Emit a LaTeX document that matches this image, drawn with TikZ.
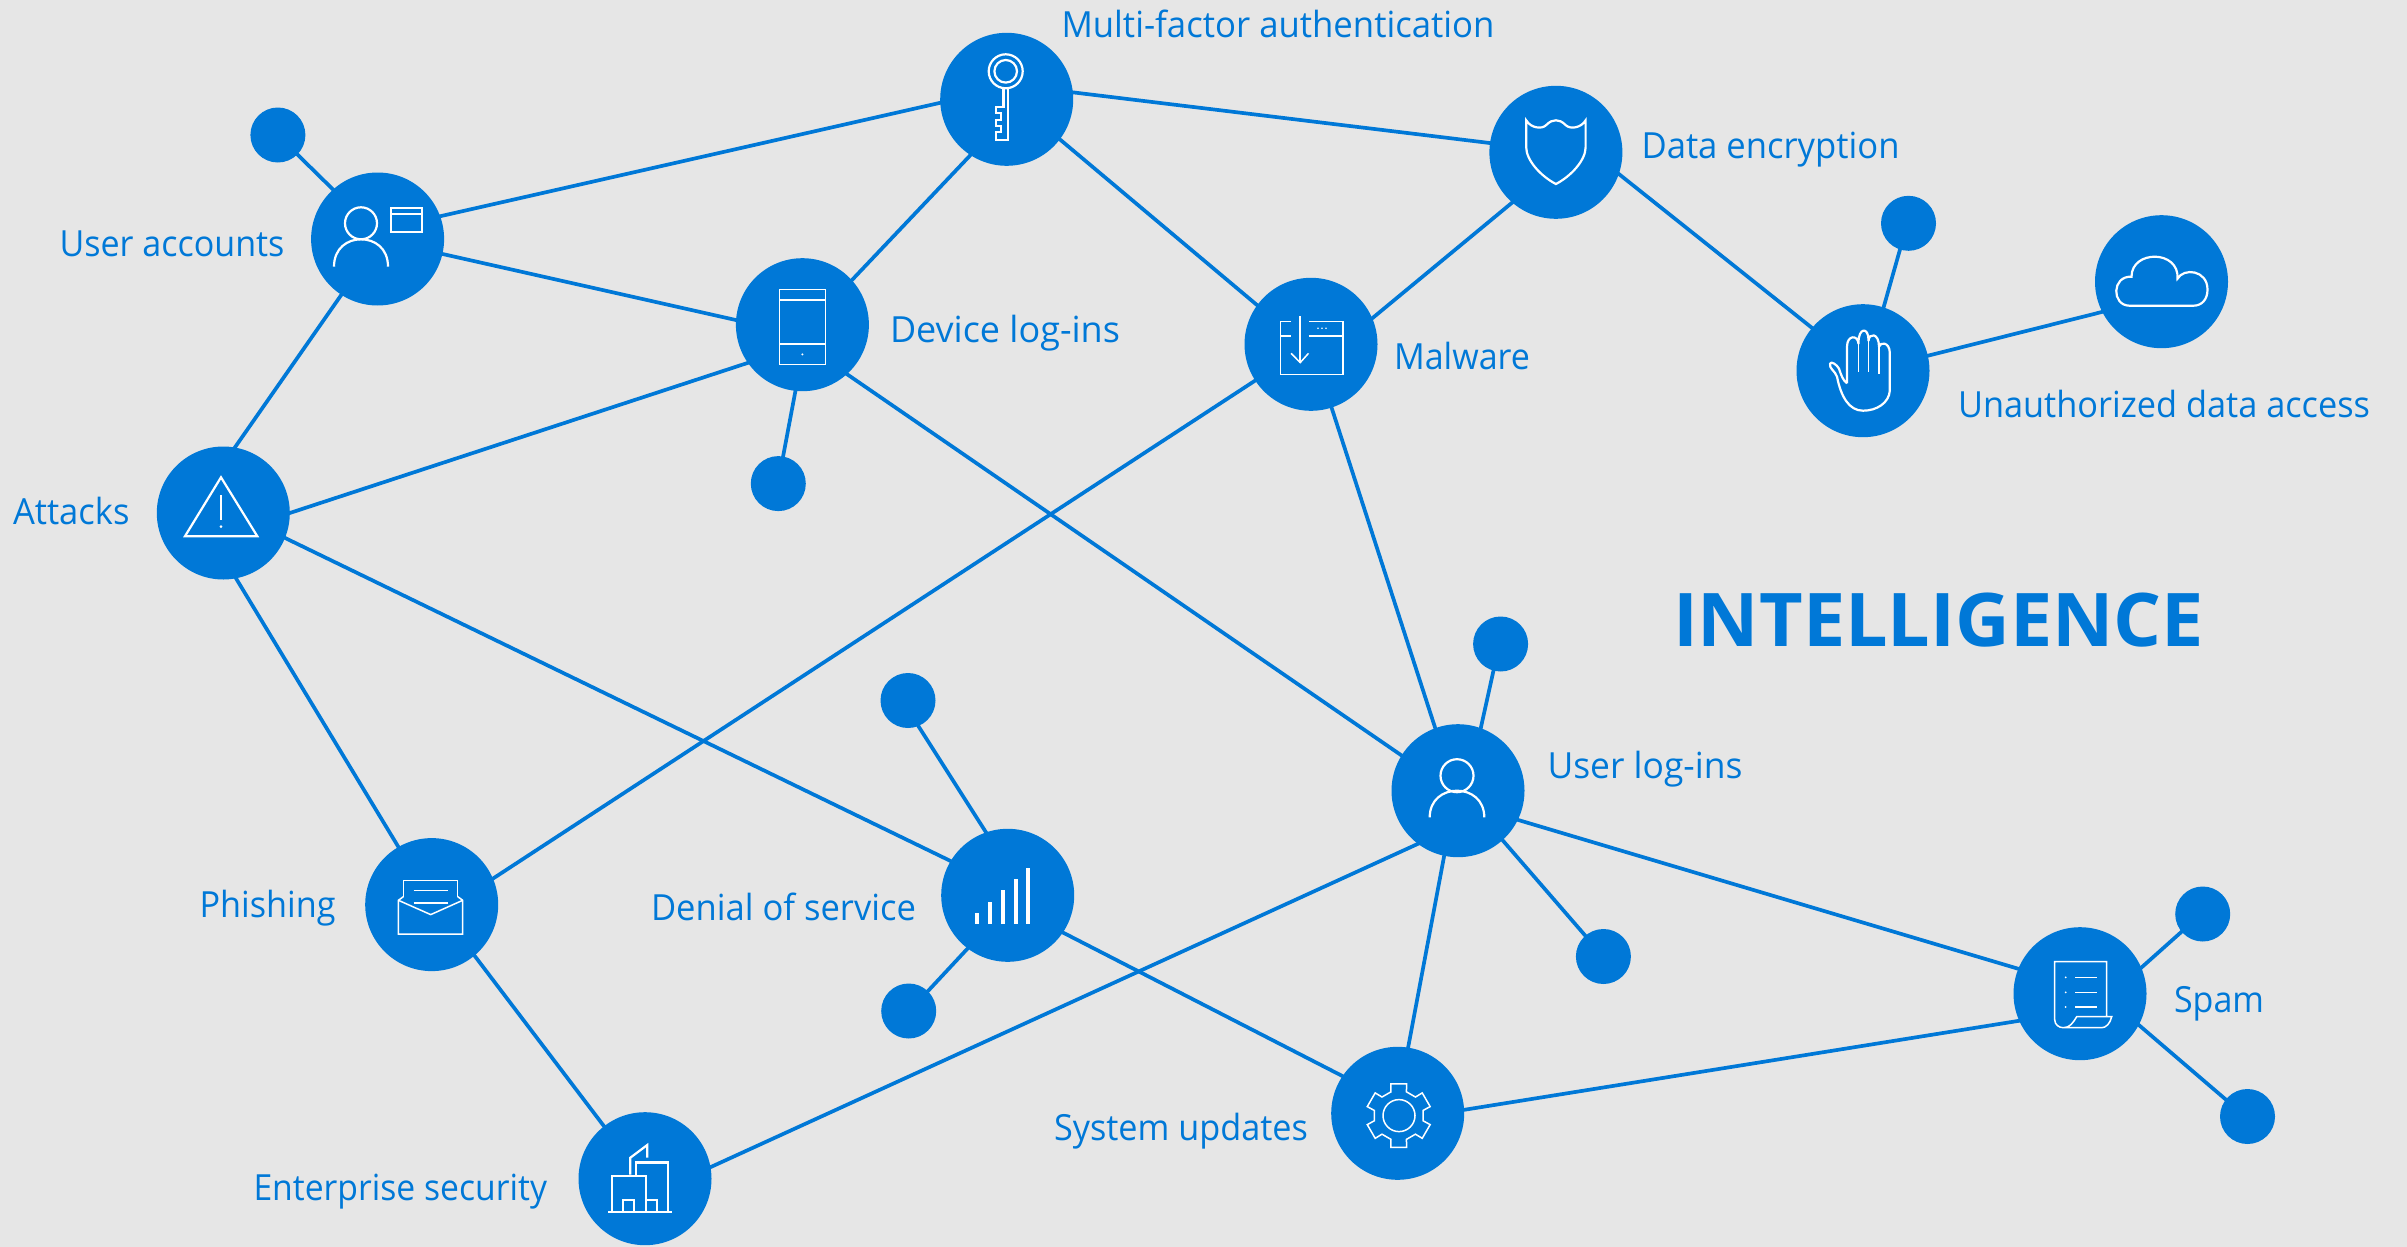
\documentclass[tikz,border=0pt]{standalone}
\usepackage{fontspec}
\usepackage{graphicx}
\setmainfont{Open Sans}
\usetikzlibrary{backgrounds}
\definecolor{msblue}{HTML}{0078D7}
\definecolor{paper}{HTML}{E6E6E6}
\newcommand{\fitw}[2]{\resizebox{#1pt}{\height}{#2}}
\pgfdeclarelayer{linklayer}
\pgfsetlayers{linklayer,main}
\tikzset{
  hub/.style={circle,fill=msblue,draw=none,inner sep=0pt,outer sep=0pt,minimum size=133pt},
  dotn/.style={circle,fill=msblue,draw=none,inner sep=0pt,outer sep=0pt,minimum size=55pt},
  link/.style={draw=msblue,line width=3.7pt,shorten <=-1.5pt,shorten >=-1.5pt},
  lbl/.style={anchor=base west,inner sep=0pt,outer sep=0pt,text=msblue,font=\fontsize{36}{42}\selectfont},
  ttl/.style={anchor=base west,inner sep=0pt,outer sep=0pt,text=msblue,font=\fontsize{74}{80}\selectfont\bfseries},
  icon/.style={draw=white,line width=2.2pt,line join=miter,fill=none},
  thin icon/.style={draw=white,line width=1.5pt,fill=none},
}
\begin{document}
\begin{tikzpicture}[x=1pt,y=-1pt]
\path[use as bounding box] (0,0) rectangle (2407,1247);
\begin{pgfonlayer}{linklayer}
\fill[paper] (0,0) rectangle (2407,1247);
\end{pgfonlayer}

% hubs
\node[hub] (ua) at (377.6,239) {};
\node[hub] (key) at (1006.7,99.3) {};
\node[hub] (dev) at (802.4,324.7) {};
\node[hub] (data) at (1555.9,152.3) {};
\node[hub] (mal) at (1311,344.3) {};
\node[hub] (hand) at (1863,370.7) {};
\node[hub] (cloud) at (2161.5,281.7) {};
\node[hub] (att) at (223.3,513) {};
\node[hub] (phi) at (431.7,904.6) {};
\node[hub] (ent) at (645,1178.7) {};
\node[hub] (den) at (1007.7,895.3) {};
\node[hub] (ul) at (1458,790.7) {};
\node[hub] (sys) at (1397.7,1113.3) {};
\node[hub] (spam) at (2080,993.7) {};
% small dots
\node[dotn] (d1) at (277.9,135) {};
\node[dotn] (d2) at (778.3,483.6) {};
\node[dotn] (d3) at (1908.5,223.3) {};
\node[dotn] (d4) at (908,700.5) {};
\node[dotn] (d5) at (908.7,1011) {};
\node[dotn] (d6) at (1500.6,644) {};
\node[dotn] (d7) at (1603.4,956.5) {};
\node[dotn] (d8) at (2202.7,914) {};
\node[dotn] (d9) at (2247.5,1116.5) {};

% connectors
\begin{pgfonlayer}{linklayer}
\draw[link] (d1.-45.7) -- (ua.132);
\draw[link] (ua.20) -- (key.183);
\draw[link] (ua.-13.4) -- (dev.176.7);
\draw[link] (ua.237) -- (att.80.5);
\draw[link] (key.237) -- (dev.42.7);
\draw[link] (key.6.6) -- (data.172);
\draw[link] (key.-37) -- (mal.144);
\draw[link] (data.229.5) -- (mal.23.6);
\draw[link] (data.-19) -- (hand.140);
\draw[link] (hand.72) -- (d3.252);
\draw[link] (hand.13) -- (cloud.207.8);
\draw[link] (att.0) -- (dev.215);
\draw[link] (att.-79) -- (phi.120);
\draw[link] (att.-22) -- (den.149.4);
\draw[link] (phi.23.5) -- (mal.213);
\draw[link] (phi.-50) -- (ent.128.4);
\draw[link] (ent.10.4) -- (ul.233.8);
\draw[link] (dev.-48) -- (ul.148.4);
\draw[link] (mal.-72.8) -- (ul.110.7);
\draw[link] (ul.70.5) -- (d6.255);
\draw[link] (ul.-48.6) -- (d7.131);
\draw[link] (ul.258) -- (sys.81);
\draw[link] (ul.-26.6) -- (spam.158);
\draw[link] (den.-34) -- (sys.146.4);
\draw[link] (sys.3.7) -- (spam.204);
\draw[link] (spam.23.6) -- (d8.220);
\draw[link] (spam.-28.7) -- (d9.142);
\draw[link] (den.109.8) -- (d4.-68);
\draw[link] (den.233.9) -- (d5.46.9);
\draw[link] (dev.264) -- (d2.80);
\end{pgfonlayer}

% labels
\node[lbl] (lmfa) at (1061.5,37.5) {\fitw{433}{Multi-factor authentication}};
\node[lbl] (lenc) at (1641.5,158.5) {\fitw{258}{Data encryption}};
\node[lbl] (lua) at (59.5,256) {\fitw{225}{User accounts}};
\node[lbl] (ldev) at (890,342.5) {\fitw{230}{Device log-ins}};
\node[lbl] (lmal) at (1394,369.5) {\fitw{136}{Malware}};
\node[lbl] (lun) at (1958,417.5) {\fitw{412}{Unauthorized data access}};
\node[lbl] (latt) at (13,524.5) {\fitw{116.5}{Attacks}};
\node[lbl] (lphi) at (199.5,917.5) {\fitw{136}{Phishing}};
\node[lbl] (lden) at (651,920) {\fitw{265}{Denial of service}};
\node[lbl] (lul) at (1547.5,778) {\fitw{195}{User log-ins}};
\node[lbl] (lspam) at (2174,1012.5) {\fitw{90}{Spam}};
\node[lbl] (lsys) at (1054,1140.6) {\fitw{254}{System updates}};
\node[lbl] (lent) at (253.5,1200) {\fitw{293.5}{Enterprise security}};
\node[ttl] (title) at (1673,646) {\fitw{531}{INTELLIGENCE}};

% icon: user accounts
\begin{scope}[shift={(ua)}]
\draw[icon] (-16.6,-15.7) circle (16);
\draw[icon] (-43.6,27.7) .. controls (-43.6,9) and (-30,0.3) .. (-16.6,0.3) .. controls (-3,0.3) and (10.4,9) .. (10.4,27.7);
\draw[icon] (13.2,-30.7) rectangle (44.2,-7.3);
\draw[thin icon] (13.2,-25) -- (44.2,-25);
\end{scope}
% icon: key
\begin{scope}[shift={(key)}]
\draw[icon] (-1,-28) circle (17);
\draw[icon] (-1,-28) circle (11.3);
\draw[icon] (-3.3,-11) -- (-3.3,8) -- (-11,8) -- (-11,14) -- (-6,14) -- (-6,21) -- (-11,21) -- (-11,27) -- (-6,27) -- (-6,33) -- (-11,33) -- (-11,41) -- (1.3,41) -- (1.3,-11);
\end{scope}
% icon: device
\begin{scope}[shift={(dev)}]
\draw[thin icon,line width=1.8pt] (-23,-35.3) rectangle (23,39.7);
\draw[thin icon,line width=1.8pt] (-23,-24.7) -- (23,-24.7);
\draw[thin icon,line width=1.8pt] (-23,19.3) -- (23,19.3);
\fill[white] (0,29.7) circle (1.1);
\end{scope}
% icon: shield
\begin{scope}[shift={(data)}]
\draw[icon] (-29.7,-32) .. controls (-25,-24) and (-14,-23) .. (-10,-27) .. controls (-6,-31) and (-3,-32) .. (0,-32) .. controls (3,-32) and (6,-31) .. (10,-27) .. controls (14,-23) and (25,-24) .. (29.7,-32) -- (29.7,-5) .. controls (29.7,8) and (15,24) .. (0,31.7) .. controls (-15,24) and (-29.7,8) .. (-29.7,-5) -- cycle;
\end{scope}
% icon: malware window
\begin{scope}[shift={(mal)}]
\draw[thin icon] (-20,-22.7) -- (-30.6,-22.7) -- (-30.6,30) -- (31.9,30) -- (31.9,-22.7) -- (-2.5,-22.7);
\draw[thin icon] (-30.6,-8.3) -- (-20,-8.3);
\draw[thin icon] (-2.5,-8.3) -- (31.9,-8.3);
\draw[thin icon] (-10.8,-28.3) -- (-10.8,18.3);
\draw[thin icon] (-19.9,9) -- (-10.8,18.3) -- (-2.5,9);
\fill[white] (7,-16) circle (0.9) (11,-16) circle (0.9) (15,-16) circle (0.9);
\end{scope}
% icon: hand
\begin{scope}[shift={(hand)}]
\draw[icon,line join=round] (-16,12.7) -- (-16,-24) .. controls (-16,-36) and (-5,-36) .. (-4.5,-27) .. controls (-5,-44) and (6,-44) .. (5.5,-30) .. controls (6,-38) and (16,-38) .. (16,-24) .. controls (17,-29) and (26.5,-29) .. (26.8,-18) -- (26.8,20) .. controls (26,32) and (14,40) .. (0,40) .. controls (-14,40) and (-22,26) .. (-26,6) .. controls (-28,0) and (-34,-2) .. (-33,-7) .. controls (-32,-10) and (-26,-6) .. (-24,-2) .. controls (-22,4) and (-20,10) .. (-16,12.7);
\draw[thin icon] (-4.5,-27) -- (-4.5,1);
\draw[thin icon] (5.5,-30) -- (5.5,1);
\draw[thin icon] (16,-24) -- (16,3);
\end{scope}
% icon: cloud
\begin{scope}[shift={(cloud)}]
\draw[icon] (-32,24) .. controls (-50,24) and (-50,-6) .. (-30,-5) .. controls (-30,-32) and (18,-32) .. (16,-3) .. controls (22,-14) and (46,-12) .. (46,8) .. controls (46,18) and (40,24) .. (32,24) -- cycle;
\end{scope}
% icon: warning triangle
\begin{scope}[shift={(att)}]
\draw[icon] (-2.3,-35.7) -- (34,23.2) -- (-38.3,23.2) -- cycle;
\draw[thin icon] (-2.3,-17.9) -- (-2.3,7.1);
\fill[white] (-2.3,13.6) circle (1.4);
\end{scope}
% icon: envelope
\begin{scope}[shift={(phi)}]
\draw[thin icon] (-28.3,-8) -- (-28.3,-24) -- (26,-24) -- (26,-8);
\draw[thin icon] (-18,-14) -- (16.7,-14);
\draw[thin icon] (-18,-1.8) -- (16.7,-1.8);
\draw[thin icon] (-28.3,-8) -- (-33.3,-4.3) -- (-33.3,29.6) -- (31,29.6) -- (31,-4.3) -- (26,-8);
\draw[thin icon] (-33.3,-4.3) -- (-1,10) -- (31,-4.3);
\end{scope}
% icon: signal bars
\begin{scope}[shift={(den)}]
\fill[white] (-32.7,17.3) rectangle (-28.7,28.7);
\fill[white] (-19.7,6.3) rectangle (-15.7,28.7);
\fill[white] (-6.7,-5.3) rectangle (-2.7,28.7);
\fill[white] (6.3,-16.3) rectangle (10.3,28.7);
\fill[white] (18.3,-27.3) rectangle (22.3,28.7);
\end{scope}
% icon: buildings
\begin{scope}[shift={(ent)}]
\draw[icon] (-36.7,33.3) -- (26.7,33.3);
\draw[icon] (-33.3,33.3) -- (-33.3,-3) -- (1,-3) -- (1,33.3);
\draw[icon] (-21.7,33.3) -- (-21.7,21.3) -- (-11,21.3) -- (-11,33.3);
\draw[icon] (-9,-3) -- (-9,-16.3) -- (23.3,-16.3) -- (23.3,33.3);
\draw[icon] (-14.7,-4) -- (-14.7,-21) -- (2.3,-33.7) -- (2.3,-21);
\draw[icon] (2.3,21.3) -- (11.7,21.3) -- (11.7,33.3);
\end{scope}
% icon: user
\begin{scope}[shift={(ul)}]
\draw[icon] (-1,-15) circle (16.5);
\draw[icon] (-28.3,26.7) .. controls (-28.3,9) and (-15,0) .. (-1,0) .. controls (13,0) and (26.3,9) .. (26.3,26.7);
\end{scope}
% icon: gear
\begin{scope}[shift={(sys)}]
\draw[thin icon] (1.3,2.3) circle (16);
\begin{scope}[shift={(1,2.3)}]
\draw[thin icon,line join=miter] (72:25)
  \foreach \t in {90,150,210,270,330,390} {
    -- (\t-18:25) -- (\t-14:32.7) -- (\t+14:32.7) -- (\t+18:25)
  } -- cycle;
\end{scope}
\end{scope}
% icon: document
\begin{scope}[shift={(spam)}]
\draw[thin icon] (26.7,23) -- (26.7,-32) -- (-25.3,-32) -- (-25.3,26) .. controls (-25.3,31) and (-21,34) .. (-16.7,34) .. controls (-10,34) and (-7,29) .. (-3.3,23) -- (31.7,23) .. controls (30,30) and (26,34) .. (21.7,34) -- (-16.7,34);
\foreach \yy in {-16.3,-1.3,13.3} {
  \draw[thin icon] (-5,\yy) -- (16.7,\yy);
  \fill[white] (-14.3,\yy) circle (1);
}
\end{scope}
\end{tikzpicture}
\end{document}
